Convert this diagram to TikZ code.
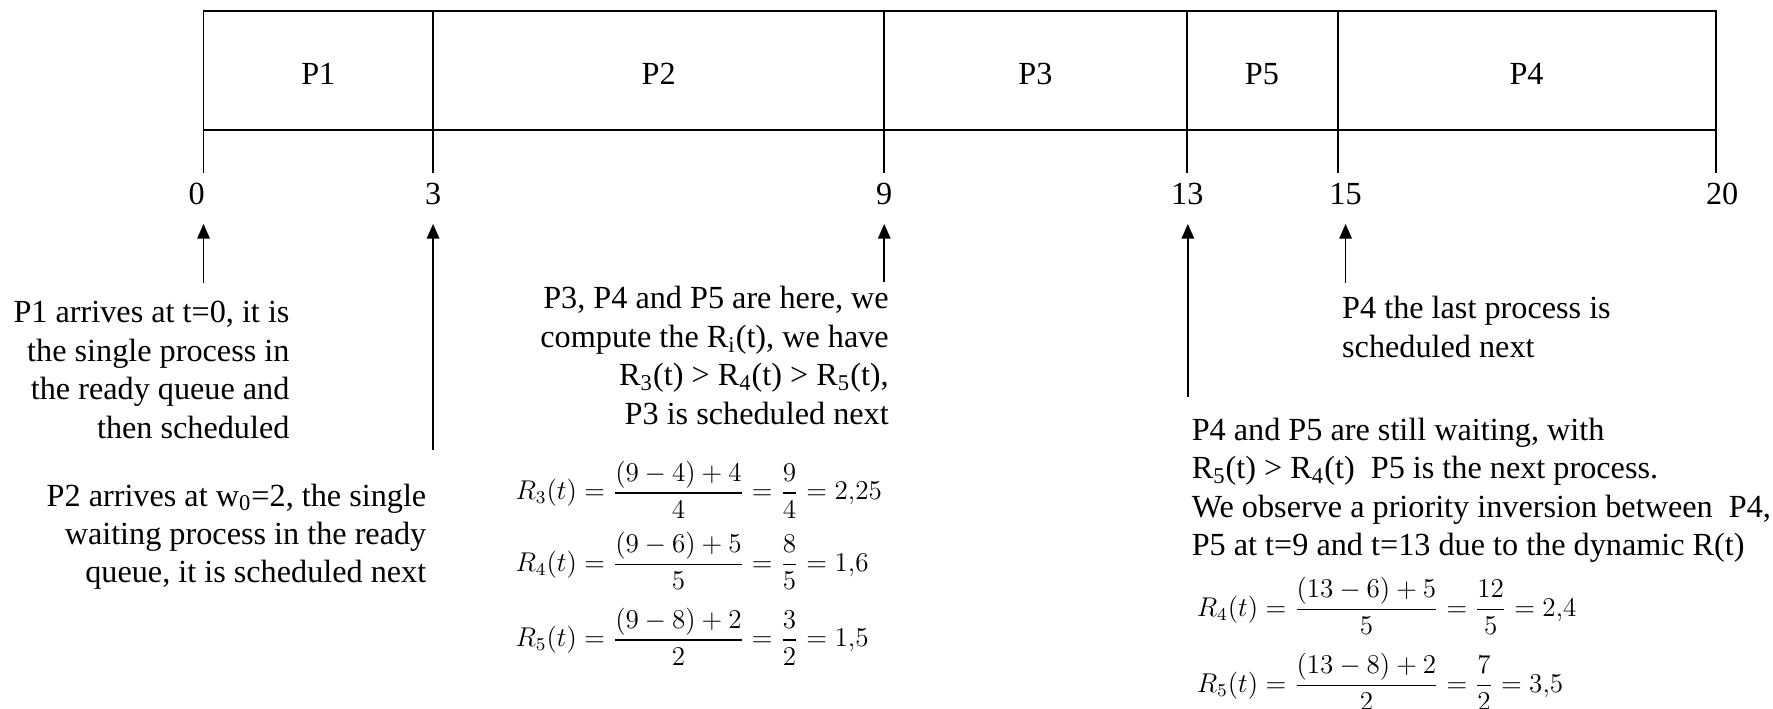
\documentclass[tikz,border=0pt]{standalone}
\usepackage{amsmath}
\usepackage{fontspec}
\setmainfont{Liberation Serif}
\usetikzlibrary{arrows.meta}
\begin{document}
\begin{tikzpicture}[x=0.5pt,y=-0.5pt,
  every node/.style={inner sep=0pt, outer sep=0pt},
  txt/.style={font=\fontsize{14.25}{17}\selectfont},
  eqn/.style={font=\fontsize{12}{14}\selectfont, anchor=base west},
  lin/.style={line width=0.75pt},
  arr/.style={line width=0.75pt, -{Triangle[length=6.5pt,width=5.5pt]}}]
\useasboundingbox (0,0) rectangle (1568,627);
% chart
\draw[lin] (180,9.5) rectangle (1517.5,115);
\foreach \x in {383,782,1049.5,1183} \draw[lin] (\x,9.5) -- (\x,115);
\foreach \x in {180,383,782,1049.5,1183,1517.5} \draw[lin] (\x,115) -- (\x,153);
% process labels
\node[txt, anchor=base] (p1) at (281.5,75) {P1};
\node[txt, anchor=base] (p2) at (582.5,75) {P2};
\node[txt, anchor=base] (p3) at (915.7,75) {P3};
\node[txt, anchor=base] (p5) at (1116,75) {P5};
\node[txt, anchor=base] (p4) at (1350,75) {P4};
% time labels
\node[txt, anchor=base] (l0) at (174,180.5) {0};
\node[txt, anchor=base] (l3) at (383,180.5) {3};
\node[txt, anchor=base] (l9) at (782,180.5) {9};
\node[txt, anchor=base] (l13) at (1050,180.5) {13};
\node[txt, anchor=base] (l15) at (1190,180.5) {15};
\node[txt, anchor=base] (l20) at (1523,180.5) {20};
% arrows
\coordinate (a0s) at (180,250);   \coordinate (a0e) at (180,198);
\coordinate (a3s) at (383,398);   \coordinate (a3e) at (383,198);
\coordinate (a9s) at (782,249);   \coordinate (a9e) at (782,198);
\coordinate (a13s) at (1050.5,351); \coordinate (a13e) at (1050.5,198);
\coordinate (a15s) at (1190,250); \coordinate (a15e) at (1190,198);
\draw[arr] (a0s) -- (a0e);
\draw[arr] (a3s) -- (a3e);
\draw[arr] (a9s) -- (a9e);
\draw[arr] (a13s) -- (a13e);
\draw[arr] (a15s) -- (a15e);
% texts (anchored at the baseline of their last line)
\node[txt, align=right, anchor=base east] (n0) at (256,387.5)
  {P1 arrives at t=0, it is\\the single process in\\the ready queue and\\then scheduled};
\node[txt, align=right, anchor=base east] (n3) at (377,515.5)
  {P2 arrives at w\textsubscript{0}=2, the single\\waiting process in the ready\\queue, it is scheduled next};
\node[txt, align=right, anchor=base east] (n9) at (786,375)
  {P3, P4 and P5 are here, we\\compute the R\textsubscript{i}(t), we have\\R\textsubscript{3}(t) > R\textsubscript{4}(t) > R\textsubscript{5}(t),\\P3 is scheduled next};
\node[txt, align=left, anchor=base west] (n15) at (1187,316)
  {P4 the last process is\\scheduled next};
\node[txt, align=left, anchor=base west] (n13) at (1054,491.5)
  {P4 and P5 are still waiting, with\\R\textsubscript{5}(t) > R\textsubscript{4}(t)\ \ P5 is the next process.\\We observe a priority inversion between\ \ P4,\\P5 at t=9 and t=13 due to the dynamic R(t)};
% equations
\node[eqn] (e3) at (456,442) {$R_3(t)=\dfrac{(9-4)+4}{4}=\dfrac{9}{4}=2{,}25$};
\node[eqn] (e4) at (456,505) {$R_4(t)=\dfrac{(9-6)+5}{5}=\dfrac{8}{5}=1{,}6$};
\node[eqn] (e5) at (456,572) {$R_5(t)=\dfrac{(9-8)+2}{2}=\dfrac{3}{2}=1{,}5$};
\node[eqn] (r4) at (1058.5,545) {$R_4(t)=\dfrac{(13-6)+5}{5}=\dfrac{12}{5}=2{,}4$};
\node[eqn] (r5) at (1058.5,612) {$R_5(t)=\dfrac{(13-8)+2}{2}=\dfrac{7}{2}=3{,}5$};
\end{tikzpicture}
\end{document}
